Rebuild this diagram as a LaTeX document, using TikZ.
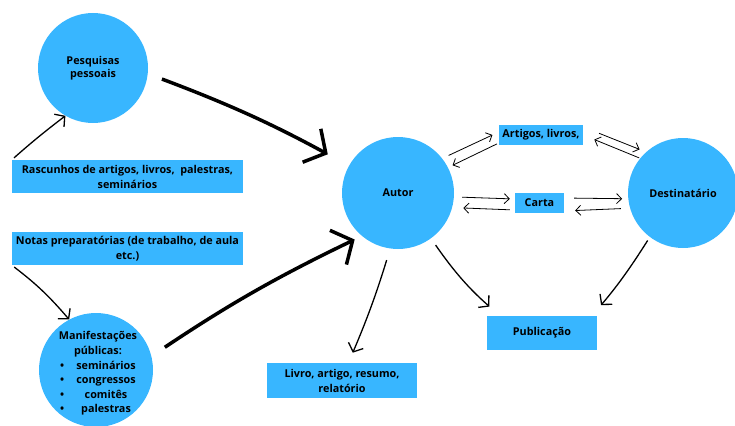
\documentclass[tikz,border=0pt]{standalone}
\usepackage{fontspec}
\setmainfont{Open Sans}
\usetikzlibrary{arrows.meta}
\definecolor{canvablue}{HTML}{38B6FF}
\tikzset{
  roda/.style = {circle, fill=canvablue, inner sep=0pt, align=center,
                 font=\bfseries\fontsize{10.8}{13.5}\selectfont},
  caixa/.style = {rectangle, fill=canvablue, inner sep=1pt, align=center,
                 font=\bfseries\fontsize{10.8}{15}\selectfont},
  setagrossa/.style = {-{Straight Barb[length=16pt,width=38pt]}, line width=3.5pt},
  seta/.style = {-{Straight Barb[length=7pt,width=16pt]}, line width=1.3pt},
  setafina/.style = {-{Straight Barb[length=5pt,width=10pt]}, line width=0.8pt},
}
\begin{document}
\begin{tikzpicture}%
            [x = 1pt, y = -1pt]
            \useasboundingbox (0,0) rectangle (735,425);

            % circulos
            \node [roda, minimum size=110pt] (pesq) at (93,68) {Pesquisas\\pessoais};
            \node [roda, minimum size=114pt] (manif) at (96,370) {};
            \node [font=\bfseries\fontsize{10.8}{14.5}\selectfont, align=center, anchor=north] (maniftxt) at (98,328)
                  {Manifestações\\públicas:\\[1pt]
                   \begin{tabular}{@{}l@{\hspace{12pt}}c@{}}
                   \textbullet & seminários\\
                   \textbullet & congressos\\
                   \textbullet & comitês\\
                   \textbullet & palestras
                   \end{tabular}};
            \node [roda, minimum size=112pt] (autor) at (398,193) {Autor};
            \node [roda, minimum size=110pt] (dest) at (683,193) {Destinatário};

            % caixas
            \node [caixa, minimum width=231pt, minimum height=33pt] (rasc) at (127.5,176.5)
                  {Rascunhos de artigos, livros,\ \ palestras,\\seminários};
            \node [caixa, minimum width=231pt, minimum height=33pt] (notas) at (127.5,248.5)
                  {Notas preparatórias (de trabalho, de aula\\etc.)};
            \node [caixa, minimum width=84pt, minimum height=20pt] (artigos) at (541,135) {Artigos, livros,};
            \node [caixa, minimum width=49pt, minimum height=20pt] (carta) at (539.5,203) {Carta};
            \node [caixa, minimum width=110pt, minimum height=34pt] (pub) at (542,333) {Publicação};
            \node [caixa, minimum width=150pt, minimum height=35pt] (livro) at (342,380.5)
                  {Livro, artigo, resumo,\\relatório};

            % setas grossas
            \draw [setagrossa, shorten <=15pt, shorten >=24pt] (pesq.-6) to [bend left=4] (autor.151);
            \draw [setagrossa, shorten <=16pt, shorten >=8pt] (manif.14) to [bend left=4] (autor.230);

            % setas
            \draw [seta, shorten <=3pt] (rasc.north west) to [bend left=2] (pesq.240);
            \draw [seta, shorten <=3pt] (notas.south west) to [bend left=6] (manif.118);
            \draw [seta, shorten <=12pt, shorten >=11pt] (autor.-98) to [bend left=3] (livro.70);
            \draw [seta, shorten <=8pt, shorten >=14pt] (autor.-54) to [bend right=7] ([xshift=-42pt]pub.north);
            \draw [seta, shorten <=4pt, shorten >=14pt] (dest.-127) to [bend left=4] ([xshift=50pt]pub.north);

            % setas duplas
            \draw [setafina, shorten <=7pt, shorten >=7pt] (autor.38) -- ([yshift=3pt]artigos.west);
            \draw [setafina, shorten <=2pt, shorten >=5pt] ([yshift=-8pt]artigos.west) -- (autor.27);
            \draw [setafina, shorten <=17pt, shorten >=7pt] ([yshift=8pt]artigos.east) -- (dest.132);
            \draw [setafina, shorten <=1pt, shorten >=12pt] (dest.141) -- (artigos.east);

            \draw [setafina, shorten <=8pt, shorten >=5pt] (autor.-4) -- ([yshift=4pt]carta.west);
            \draw [setafina, shorten <=5pt, shorten >=11pt] ([yshift=-7pt]carta.west) -- (autor.-15);
            \draw [setafina, shorten <=10pt, shorten >=6pt] ([yshift=5pt]carta.east) -- (dest.186);
            \draw [setafina, shorten <=9pt, shorten >=11pt] (dest.196) -- ([yshift=-8pt]carta.east);
\end{tikzpicture}
\end{document}
